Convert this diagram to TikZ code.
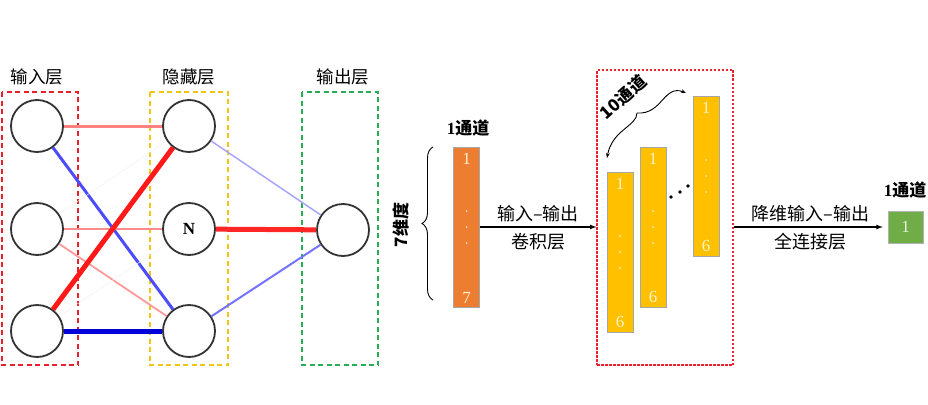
\documentclass[tikz,border=0pt]{standalone}
\usepackage{fontspec}
\setmainfont{Liberation Serif}
\newfontfamily\cjk{Noto Sans CJK SC}
\usepackage{xcolor}
\usetikzlibrary{positioning,arrows.meta,decorations.pathreplacing}
\definecolor{barorange}{HTML}{ED7D31}
\definecolor{bargold}{HTML}{FFC000}
\definecolor{bargreen}{HTML}{70AD47}
\definecolor{boxred}{HTML}{E8202A}
\definecolor{boxyellow}{HTML}{F2C511}
\definecolor{boxgreen}{HTML}{25AE55}
\tikzset{
  neuron/.style={circle, draw=black!80, line width=1.8pt, minimum size=52pt,
    inner sep=0pt, fill=white},
  layerbox/.style={dash pattern=on 5pt off 3.5pt, line width=1.5pt},
  bar/.style={rectangle, draw=gray!70, line width=0.6pt, minimum width=26pt,
    minimum height=160pt, inner sep=0pt},
  bartext/.style={text=white!80!bargold, inner sep=0pt,
    font=\fontsize{17}{17}\selectfont},
  lbl/.style={font=\fontsize{17.5}{20}\selectfont},
  boldlbl/.style={font=\bfseries\fontsize{17}{20}\selectfont},
}
\begin{document}
\begin{tikzpicture}[x=1pt, y=-1pt, >=latex, font=\fontsize{18}{20}\selectfont]
  \useasboundingbox (0,0) rectangle (928,404);
  % Netz
  \node[neuron] (in1) at (37,126) {};
  \node[neuron] (in2) at (37,229) {};
  \node[neuron] (in3) at (37,331) {};
  \node[neuron] (hd1) at (189,126) {};
  \node[neuron, font=\bfseries\fontsize{17}{17}\selectfont] (hd2) at (189,229) {N};
  \node[neuron] (hd3) at (189,331) {};
  \node[neuron] (out) at (343,230) {};
  \node[lbl] (lbin) at (37,77) {\cjk 输入层};
  \node[lbl] (lbhd) at (189,77) {\cjk 隐藏层};
  \node[lbl] (lbout) at (343,77) {\cjk 输出层};
  \draw[boxred, layerbox] (2,92) rectangle (78,365);
  \draw[boxyellow, layerbox] (150,92) rectangle (228,365);
  \draw[boxgreen, layerbox] (302,92) rectangle (378,365);
  % Gewichte
  \draw[red!50, line width=3pt] (in1) -- (hd1);
  \draw[blue!70, line width=3pt] (in1) -- (hd3);
  \draw[black!6, line width=0.5pt] (in2) -- (hd1);
  \draw[red!45, line width=2pt] (in2) -- (hd2);
  \draw[red!40, line width=1.8pt] (in2) -- (hd3);
  \draw[red!90, line width=5pt] (in3) -- (hd1);
  \draw[black!5, line width=0.5pt] (in3) -- (hd2);
  \draw[blue!85!black, line width=5pt] (in3) -- (hd3);
  \draw[blue!35, line width=1.5pt] (hd1) -- (out);
  \draw[red!85, line width=5pt] (hd2) -- (out);
  \draw[blue!55, line width=2pt] (hd3) -- (out);
  % Eingang
  \node[bar, fill=barorange] (conv) at (466.5,227) {};
  \node[bartext, below=6pt of conv.north] (conv-top) {1};
  \node[bartext, above=4pt of conv.south] (conv-bot) {7};
  \foreach \d in {-16,0,16}
    \fill[white!70!barorange] (conv) ++(0,\d) circle (1pt);
  \node[boldlbl] (convlbl) at (468,128) {1{\cjk\bfseries 通道}};
  \draw[decorate, decoration={brace, amplitude=11pt}, line width=0.9pt]
    (433,300) -- (433,147);
  \node[rotate=90, boldlbl] (dimlbl) at (401,225) {\cjk\bfseries 7维度};
  % Kanaele
  \node[draw=boxred, line width=1.2pt, dash pattern=on 2.5pt off 1.5pt,
    minimum width=136pt, minimum height=295pt] (chbox) at (665,217.5) {};
  \foreach \n/\xx/\yy in {ch1/620/252, ch2/653/227, ch3/706/176} {
    \node[bar, fill=bargold] (\n) at (\xx,\yy) {};
    \node[bartext, below=6pt of \n.north] (\n-top) {1};
    \node[bartext, above=4pt of \n.south] (\n-bot) {6};
    \foreach \d in {-16,0,16}
      \fill[white!70!bargold] (\n) ++(0,\d) circle (1pt);
  }
  \foreach \xx/\yy in {671/197, 680/192, 688/186}
    \fill (\xx,\yy) circle (1.8pt);
  \coordinate (bcusp) at (637,113);
  \coordinate (bleft) at (607,158);
  \coordinate (bright) at (686,93);
  \draw[-{Stealth[length=5pt]}, line width=0.9pt] (bcusp)
    .. controls (637,126) and (612,130) .. (bleft);
  \draw[-{Stealth[length=5pt]}, line width=0.9pt] (bcusp)
    .. controls (662,115) and (664,84) .. (bright);
  \node[rotate=42, boldlbl] (chlbl) at (623,97) {\cjk\bfseries 10通道};
  % Ausgang
  \node[rectangle, draw=gray!60, fill=bargreen, minimum width=35pt,
    minimum height=32pt, inner sep=0pt, text=white!85!bargreen,
    font=\fontsize{17}{17}\selectfont] (fc) at (905.5,227) {1};
  \node[boldlbl] (fclbl) at (905,190) {1{\cjk\bfseries 通道}};
  % Pfeile
  \draw[->, line width=1.2pt] (conv.east) -- (conv.east -| chbox.west)
    node[midway, above=1pt] (convtop) {\cjk 输入–输出}
    node[midway, below=2pt] (convbot) {\cjk 卷积层};
  \draw[->, line width=1.2pt, shorten >=5pt] (chbox.east |- fc.west) -- (fc.west)
    node[midway, above=1pt] (fctop) {\cjk 降维输入–输出}
    node[midway, below=2pt] (fcbot) {\cjk 全连接层};
\end{tikzpicture}
\end{document}
